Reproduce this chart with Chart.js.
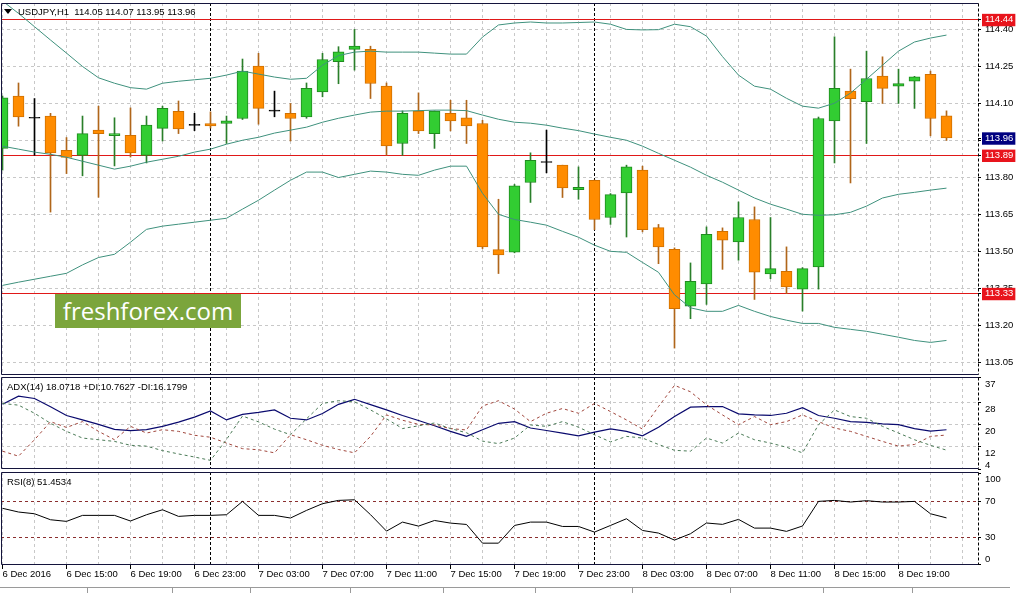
<!DOCTYPE html>
<html>
<head>
<meta charset="utf-8">
<title>USDJPY H1</title>
<script src="https://cdn.jsdelivr.net/npm/chart.js@4.4.1/dist/chart.umd.min.js"></script>
<style>
  html, body { margin: 0; padding: 0; background: #fff; }
  #wrap { position: relative; width: 1021px; height: 593px; overflow: hidden; font-family: 'Liberation Sans', Arial, sans-serif; }
  #wrap canvas { position: absolute; left: 0; }
  .lbl { position: absolute; font-size: 9.5px; line-height: 11px; color: #000; white-space: pre; }
  .tri { position: absolute; left: 4px; top: 9px; width: 0; height: 0; border-left: 4px solid transparent; border-right: 4px solid transparent; border-top: 5px solid #000; }
  #brand { position: absolute; left: 55px; top: 294px; width: 186px; height: 34px; background: #7ba53c; color: #fff; font: 24px/34px 'Open Sans', sans-serif; text-align: center; }
  #tabs { position: absolute; left: 0; top: 587px; width: 1010px; height: 6px; border-top: 1px solid #9a9a9a; }
  #tabs div { position: absolute; top: 0; width: 1px; height: 6px; background: #9a9a9a; }
</style>
</head>
<body>
<div id="wrap">
  <canvas id="mainChart" width="1021" height="376" style="top:0"></canvas>
  <canvas id="adxChart" width="1021" height="95" style="top:376px"></canvas>
  <canvas id="rsiChart" width="1021" height="123" style="top:470px"></canvas>
  <div class="tri"></div>
  <div class="lbl" style="left:18px;top:6px">USDJPY,H1  114.05 114.07 113.95 113.96</div>
  <div class="lbl" style="left:7px;top:381px">ADX(14) 18.0718 +DI:10.7627 -DI:16.1799</div>
  <div class="lbl" style="left:7px;top:476px">RSI(8) 51.4534</div>
  <div id="brand">freshforex.com</div>
  <div id="tabs"></div>
</div>
<script>
// hourly bars, 6 Dec 11:00 .. 8 Dec 22:00 (bar index 0..59)
const timeLabels = ['6 Dec 2016', '6 Dec 15:00', '6 Dec 19:00', '6 Dec 23:00', '7 Dec 03:00',
    '7 Dec 07:00', '7 Dec 11:00', '7 Dec 15:00', '7 Dec 19:00', '7 Dec 23:00',
    '8 Dec 03:00', '8 Dec 07:00', '8 Dec 11:00', '8 Dec 15:00', '8 Dec 19:00'];
const labelEvery = 4;
const daySeparators = [13, 37];

const openP = [
    113.918, 114.130, 114.040, 114.049, 113.910, 113.890, 113.992, 113.970, 113.971, 113.890,
    113.999, 114.068, 114.011, 114.019, 114.019, 114.039, 114.251, 114.069, 114.060, 114.046,
    114.147, 114.269, 114.319, 114.319, 114.170, 113.938, 114.069, 113.978, 114.060, 114.042,
    114.019, 113.508, 113.498, 113.780, 113.861, 113.850, 113.751, 113.789, 113.638, 113.738,
    113.830, 113.597, 113.509, 113.279, 113.369, 113.582, 113.539, 113.630, 113.409, 113.420,
    113.348, 113.438, 114.029, 114.150, 114.107, 114.211, 114.170, 114.190, 114.218, 114.050];
const highP = [
    114.130, 114.183, 114.120, 114.060, 113.962, 114.049, 114.089, 114.042, 114.082, 114.049,
    114.089, 114.110, 114.060, 114.066, 114.049, 114.280, 114.303, 114.150, 114.100, 114.183,
    114.303, 114.330, 114.400, 114.332, 114.183, 114.070, 114.143, 114.070, 114.113, 114.113,
    114.032, 113.712, 113.772, 113.900, 113.992, 113.850, 113.843, 113.790, 113.735, 113.850,
    113.846, 113.610, 113.515, 113.454, 113.600, 113.596, 113.701, 113.681, 113.638, 113.519,
    113.435, 114.045, 114.370, 114.239, 114.312, 114.289, 114.239, 114.210, 114.231, 114.070];
const lowP = [
    113.830, 114.008, 113.890, 113.660, 113.816, 113.807, 113.720, 113.847, 113.883, 113.859,
    113.948, 113.978, 113.990, 114.000, 113.938, 114.035, 114.016, 114.046, 113.948, 114.040,
    114.127, 114.180, 114.235, 114.120, 113.890, 113.890, 113.978, 113.918, 113.989, 113.938,
    113.512, 113.411, 113.495, 113.699, 113.819, 113.719, 113.712, 113.589, 113.610, 113.559,
    113.580, 113.451, 113.109, 113.228, 113.286, 113.428, 113.465, 113.306, 113.390, 113.330,
    113.259, 113.348, 113.859, 113.778, 113.938, 114.100, 114.100, 114.080, 113.969, 113.950];
const closeP = [
    114.123, 114.046, 114.040, 113.900, 113.881, 113.978, 113.978, 113.978, 113.900, 114.012,
    114.080, 113.997, 114.011, 114.009, 114.030, 114.231, 114.080, 114.069, 114.039, 114.161,
    114.278, 114.309, 114.332, 114.181, 113.928, 114.060, 113.989, 114.069, 114.029, 114.009,
    113.519, 113.486, 113.766, 113.870, 113.861, 113.758, 113.760, 113.630, 113.731, 113.843,
    113.589, 113.519, 113.269, 113.379, 113.570, 113.546, 113.638, 113.417, 113.431, 113.357,
    113.431, 114.039, 114.161, 114.119, 114.201, 114.161, 114.181, 114.208, 114.039, 113.960];

// Bollinger bands
const bbUpper = [
    114.515, 114.465, 114.411, 114.357, 114.304, 114.250, 114.204, 114.182, 114.164, 114.158,
    114.182, 114.190, 114.196, 114.202, 114.215, 114.231, 114.219, 114.207, 114.198, 114.202,
    114.255, 114.294, 114.308, 114.312, 114.308, 114.308, 114.308, 114.304, 114.300, 114.300,
    114.369, 114.418, 114.426, 114.430, 114.426, 114.426, 114.428, 114.430, 114.421, 114.400,
    114.398, 114.399, 114.421, 114.411, 114.373, 114.290, 114.215, 114.170, 114.158, 114.121,
    114.089, 114.081, 114.101, 114.142, 114.198, 114.255, 114.312, 114.349, 114.365, 114.377];
const bbMiddle = [
    113.927, 113.915, 113.903, 113.894, 113.882, 113.866, 113.850, 113.834, 113.846, 113.862,
    113.874, 113.886, 113.903, 113.915, 113.935, 113.951, 113.963, 113.980, 113.992, 114.004,
    114.024, 114.040, 114.053, 114.065, 114.069, 114.069, 114.071, 114.073, 114.073, 114.071,
    114.053, 114.036, 114.024, 114.020, 114.012, 114.000, 113.990, 113.976, 113.963, 113.951,
    113.927, 113.898, 113.870, 113.842, 113.809, 113.781, 113.749, 113.717, 113.692, 113.672,
    113.651, 113.647, 113.649, 113.659, 113.684, 113.717, 113.732, 113.740, 113.749, 113.757];
const bbLower = [
    113.363, 113.376, 113.388, 113.400, 113.412, 113.446, 113.476, 113.489, 113.538, 113.590,
    113.603, 113.611, 113.619, 113.627, 113.635, 113.672, 113.708, 113.749, 113.789, 113.822,
    113.822, 113.800, 113.813, 113.826, 113.822, 113.813, 113.809, 113.830, 113.846, 113.846,
    113.736, 113.651, 113.630, 113.619, 113.607, 113.582, 113.558, 113.526, 113.501, 113.497,
    113.456, 113.416, 113.325, 113.272, 113.258, 113.258, 113.282, 113.258, 113.237, 113.222,
    113.209, 113.209, 113.193, 113.185, 113.177, 113.165, 113.153, 113.140, 113.132, 113.140];

// ADX(14)
const adxMain = [
    27.2, 30.1, 29.3, 26.3, 23.2, 21.6, 20.0, 18.2, 17.8, 18.1,
    19.3, 20.8, 22.6, 24.8, 21.6, 23.6, 24.3, 25.2, 22.2, 21.6,
    23.9, 27.2, 29.0, 27.1, 25.2, 23.2, 21.4, 19.5, 17.5, 15.7,
    18.1, 20.4, 21.0, 18.7, 17.8, 16.9, 15.9, 17.2, 18.4, 17.5,
    15.9, 19.0, 22.8, 26.2, 26.4, 26.4, 23.8, 23.4, 23.2, 24.0,
    26.0, 23.2, 22.2, 21.0, 20.7, 20.2, 19.9, 18.5, 17.6, 18.07];
const plusDI = [
    27.5, 26.9, 24.0, 20.4, 17.5, 15.1, 14.5, 13.9, 12.5, 12.2,
    10.6, 9.4, 8.3, 7.1, 14.6, 23.0, 20.9, 18.3, 16.3, 22.0,
    27.5, 28.5, 28.1, 25.2, 22.0, 18.5, 19.5, 20.5, 18.5, 17.0,
    14.0, 13.1, 15.1, 19.8, 19.3, 21.0, 19.0, 16.3, 13.7, 15.7,
    15.1, 12.8, 10.7, 10.4, 15.1, 13.3, 16.9, 14.5, 13.3, 11.8,
    9.8, 19.9, 25.2, 22.8, 22.2, 19.3, 16.9, 14.5, 12.5, 10.76];
const minusDI = [
    10.4, 8.6, 14.5, 21.0, 18.9, 21.0, 17.5, 14.5, 19.3, 16.9,
    18.1, 17.5, 16.1, 15.4, 13.3, 11.3, 10.9, 9.8, 16.3, 14.5,
    12.5, 11.0, 9.8, 15.7, 23.4, 21.5, 20.0, 19.8, 18.5, 18.0,
    26.6, 28.5, 25.5, 21.0, 24.0, 25.7, 24.0, 27.5, 24.6, 21.6,
    18.3, 26.4, 34.0, 31.7, 27.0, 23.4, 19.9, 22.8, 19.9, 21.0,
    23.4, 21.0, 18.7, 17.5, 15.7, 13.9, 12.2, 12.8, 15.7, 16.18];

// RSI(8)
const rsi8 = [
    62.0, 57.9, 56.0, 49.4, 47.6, 54.2, 54.2, 54.2, 48.0, 54.9,
    60.4, 53.1, 54.2, 54.2, 54.9, 69.6, 54.2, 54.2, 51.3, 59.7,
    67.1, 70.7, 71.4, 55.0, 36.9, 46.8, 42.4, 48.6, 45.7, 44.2,
    23.6, 23.6, 43.1, 46.8, 46.8, 42.0, 42.0, 35.8, 43.1, 50.5,
    37.6, 34.7, 27.0, 34.0, 45.8, 44.3, 49.8, 40.2, 40.2, 36.6,
    42.5, 69.6, 70.7, 68.9, 70.4, 68.9, 68.9, 69.6, 56.0, 51.45];

// axis ticks / levels
const priceTicks = [114.40, 114.25, 114.10, 113.95, 113.80, 113.65, 113.50, 113.35, 113.20, 113.05];
const markedLevels = [114.44, 113.89, 113.33];
const lastPrice = 113.96;
const adxTicks = [37, 28, 20, 12, 4];
const rsiTicks = [100, 70, 30, 0];
const rsiLevels = [70, 30];

const GRID = '#c8c8c8';
const CLEAR = 'rgba(0,0,0,0)';
const BAND = '#3f917d';
const LEVEL_RED = '#e01818';

Chart.defaults.font.family = "'Liberation Sans', Arial, sans-serif";
Chart.defaults.font.size = 9.5;
Chart.defaults.color = '#000';

const idx = openP.map((_, k) => k);
const candleColor = (k, bull, bear, doji) =>
    closeP[k] === openP[k] ? doji : (closeP[k] > openP[k] ? bull : bear);
const series = arr => arr.map((v, k) => ({ x: k, y: v }));
const tv = c => (c.tick ? c.tick.value : NaN);

// every other bar gets a vertical grid line, plus the day separators
const gridTicks = [];
for (let k = 0; k <= 60; k += 2) gridTicks.push(k);
gridTicks.push(...daySeparators);
const hasLabel = v => v % labelEvery === 0 && v / labelEvery < timeLabels.length;

// keep the plot area exactly where the layout padding puts it
function fixWidth(s) {
    s.width = 43;
    s.paddingTop = 0;
    s.paddingBottom = 0;
}

function timeAxis(showLabels) {
    return {
        type: 'linear', min: -0.094, max: 60.969, offset: false,
        afterBuildTicks: s => { s.ticks = gridTicks.map(v => ({ value: v })); },
        afterFit: s => {
            s.height = showLabels ? 20 : 0;
            s.paddingLeft = 0;
            s.paddingRight = 0;
        },
        grid: {
            offset: false,
            color: c => daySeparators.includes(tv(c)) ? '#000' : GRID,
            drawTicks: showLabels, tickLength: 4,
            tickColor: c => hasLabel(tv(c)) ? '#000' : CLEAR
        },
        border: { display: false, dash: c => daySeparators.includes(tv(c)) ? [3, 2] : [3, 3] },
        ticks: {
            display: showLabels, autoSkip: false, maxRotation: 0, minRotation: 0,
            align: 'start', padding: 0,
            callback: v => hasLabel(v) ? timeLabels[v / labelEvery] : ''
        }
    };
}

const framePlugin = {
    id: 'frame',
    afterDraw(chart) {
        const { ctx, chartArea: a } = chart;
        const l = Math.round(a.left) + 0.5, r = Math.round(a.right) + 0.5;
        const t = Math.round(a.top) + 0.5, b = Math.round(a.bottom) - 0.5;
        ctx.save();
        ctx.lineWidth = 1;
        ctx.strokeStyle = '#14143c';
        ctx.beginPath();
        ctx.moveTo(r, t); ctx.lineTo(l, t); ctx.lineTo(l, b); ctx.lineTo(r, b);
        ctx.stroke();
        ctx.strokeStyle = '#000';
        ctx.setLineDash([3, 2]);
        ctx.beginPath();
        ctx.moveTo(r, t); ctx.lineTo(r, b);
        ctx.stroke();
        ctx.restore();
    }
};

function baseOptions(yAxis, showTime, padding) {
    return {
        responsive: false, animation: false, events: [],
        layout: { padding },
        plugins: { legend: { display: false }, tooltip: { enabled: false } },
        scales: { x: timeAxis(showTime), y: yAxis }
    };
}

const lineSet = (arr, color, dash, width) => ({
    type: 'line', data: series(arr), borderColor: color, borderWidth: width || 1,
    borderDash: dash || [], pointRadius: 0, tension: 0, fill: false, order: 0
});

// price panel
const isBoxed = v => markedLevels.includes(v) || v === lastPrice;
new Chart(document.getElementById('mainChart'), {
    type: 'bar',
    data: {
        datasets: [
            lineSet(bbUpper, BAND),
            lineSet(bbMiddle, BAND),
            lineSet(bbLower, BAND),
            {
                data: idx.map(k => ({ x: k, y: [openP[k], closeP[k]] })),
                backgroundColor: idx.map(k => candleColor(k, '#32cd32', '#ff8c00', '#000')),
                borderColor: idx.map(k => candleColor(k, '#1f8a1f', '#d07000', '#000')),
                borderWidth: 1, borderSkipped: false,
                barThickness: 11, minBarLength: 1, grouped: false, order: 1
            },
            {
                data: idx.map(k => ({ x: k, y: [lowP[k], highP[k]] })),
                backgroundColor: idx.map(k => candleColor(k, '#2a7f2a', '#b0661a', '#000')),
                borderWidth: 0, barThickness: 1, minBarLength: 1, grouped: false, order: 2
            }
        ]
    },
    options: baseOptions({
        type: 'linear', position: 'right', min: 113.0, max: 114.507, beginAtZero: false,
        afterBuildTicks: s => {
            s.ticks = priceTicks.concat([lastPrice], markedLevels).map(v => ({ value: v }));
        },
        afterFit: fixWidth,
        grid: {
            color: c => {
                const v = tv(c);
                if (markedLevels.includes(v)) return LEVEL_RED;
                return v === lastPrice ? CLEAR : GRID;
            },
            tickLength: 3, tickColor: '#000'
        },
        border: { display: false, dash: c => markedLevels.includes(tv(c)) ? [] : [3, 3] },
        ticks: {
            autoSkip: false, padding: 4,
            color: c => isBoxed(tv(c)) ? '#fff' : '#000',
            showLabelBackdrop: c => isBoxed(tv(c)),
            backdropColor: c => tv(c) === lastPrice ? '#000080' : '#e8141c',
            backdropPadding: { top: 0, bottom: 1, left: 3, right: 2 },
            callback: v => v.toFixed(2)
        }
    }, false, { left: 1, top: 3, right: 0, bottom: 1 }),
    plugins: [framePlugin]
});

// ADX panel
new Chart(document.getElementById('adxChart'), {
    type: 'line',
    data: {
        datasets: [
            lineSet(plusDI, '#4a7a56', [3, 3]),
            lineSet(minusDI, '#a0463c', [3, 3]),
            lineSet(adxMain, '#0a0a6e', [], 1.2)
        ]
    },
    options: baseOptions({
        type: 'linear', position: 'right', min: 4, max: 37,
        afterBuildTicks: s => { s.ticks = adxTicks.map(v => ({ value: v })); },
        afterFit: fixWidth,
        grid: {
            color: c => (tv(c) === adxTicks[0] || tv(c) === adxTicks[adxTicks.length - 1]) ? CLEAR : GRID,
            tickLength: 3, tickColor: '#000'
        },
        border: { display: false, dash: [3, 3] },
        ticks: {
            autoSkip: false, padding: 4, labelOffset: 1.5,
            font: { lineHeight: '11px' },
            callback: v => v === adxTicks[adxTicks.length - 1] ? [String(v), ''] : ['', String(v)]
        }
    }, false, { left: 1, top: 1, right: 0, bottom: 2 }),
    plugins: [framePlugin]
});

// RSI panel
new Chart(document.getElementById('rsiChart'), {
    type: 'line',
    data: { datasets: [lineSet(rsi8, '#000')] },
    options: baseOptions({
        type: 'linear', position: 'right', min: -0.44, max: 101.98,
        afterBuildTicks: s => { s.ticks = rsiTicks.map(v => ({ value: v })); },
        afterFit: fixWidth,
        grid: {
            color: c => rsiLevels.includes(tv(c)) ? '#8b2f2f' : CLEAR,
            tickLength: 3, tickColor: '#000'
        },
        border: { display: false, dash: [3, 3] },
        ticks: {
            autoSkip: false, padding: 4,
            font: { lineHeight: '11px' },
            callback: v => v === rsiTicks[0] ? ['', String(v)]
                : (v === rsiTicks[rsiTicks.length - 1] ? [String(v), ''] : String(v))
        }
    }, true, { left: 1, top: 2, right: 0, bottom: 8 }),
    plugins: [framePlugin]
});

// terminal tab strip under the chart
const tabs = document.getElementById('tabs');
[87, 172, 250, 350, 443, 535, 632, 730, 823, 912].forEach(x => {
    const d = document.createElement('div');
    d.style.left = x + 'px';
    tabs.appendChild(d);
});
</script>
</body>
</html>
